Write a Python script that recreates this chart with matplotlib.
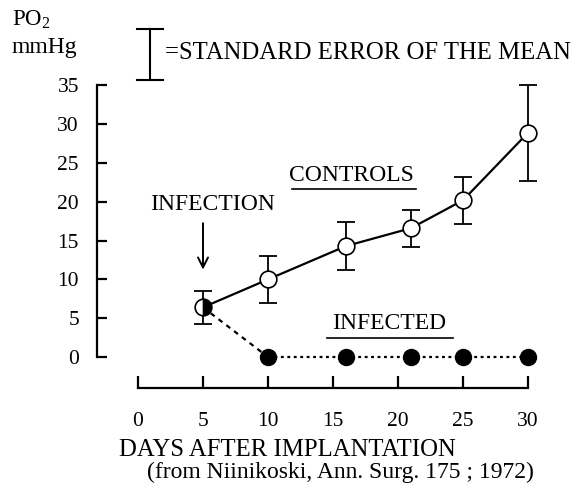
import numpy as np
import matplotlib
matplotlib.use('Agg')
import matplotlib.pyplot as plt
from matplotlib.lines import Line2D

plt.rcParams['font.family'] = ['Liberation Serif', 'DejaVu Serif']

# data (PO2 in mmHg)
days = [5, 10, 16, 21, 25, 30]
controls = [6.4, 10.0, 14.3, 16.6, 20.2, 28.9]
controls_err = [2.1, 3.0, 3.1, 2.4, 3.0, 6.2]
infected_days = [5, 10, 16, 21, 25, 30]
infected = [6.4, 0, 0, 0, 0, 0]
xticks = [0, 5, 10, 15, 20, 25, 30]
yticks = [0, 5, 10, 15, 20, 25, 30, 35]

W, H = 580, 490
fig = plt.figure(figsize=(W / 100, H / 100), dpi=100)
# axes placed in pixels: x 90..545, y 80..395
ax = fig.add_axes([90 / W, 1 - 395 / H, 455 / W, 315 / H])
ax.set_xlim((90 - 138) / 13, (545 - 138) / 13)
ax.set_ylim((357 - 395) / 7.76, (357 - 80) / 7.76)

lw = 1.6
# controls: open circles with error bars
ax.errorbar(days, controls, yerr=controls_err, fmt='none', ecolor='black',
            elinewidth=1.3, capsize=6.5, capthick=1.3, zorder=1)
ax.plot(days, controls, '-', color='black', lw=lw, zorder=2)
ax.plot(days[1:], controls[1:], 'o', ms=12, mfc='white', mec='black', mew=1.2, zorder=3)

# infected: dashed to day 10, then dotted
ax.plot(infected_days[:2], infected[:2], color='black', lw=1.6,
        ls=(0, (2.2, 2.2)), zorder=2)
ax.plot(infected_days[1:], infected[1:], color='black', lw=1.6,
        ls=(0, (1.3, 1.6)), zorder=2)
ax.plot(infected_days[1:], infected[1:], 'o', ms=11.5, mfc='black', mec='black', zorder=3)
ax.plot(infected_days[0], infected[0], 'o', ms=12, fillstyle='right',
        mfc='black', mfcalt='white', mec='black', mew=1.2, zorder=3)

# axes styling
for s in ['top', 'right']:
    ax.spines[s].set_visible(False)
ax.spines['left'].set_position(('data', (97 - 138) / 13))
ax.spines['left'].set_bounds(0, 35)
ax.spines['bottom'].set_position(('data', (357 - 388) / 7.76))
ax.spines['bottom'].set_bounds(0, 30)
ax.spines['left'].set_linewidth(lw)
ax.spines['bottom'].set_linewidth(lw)
ax.set_xticks(xticks)
ax.set_yticks(yticks)
ax.tick_params(axis='y', direction='in', length=7.5, width=lw, pad=13, labelsize=15.5)
ax.tick_params(axis='x', direction='in', length=9, width=lw, pad=17, labelsize=15.5)

# annotations
ax.text(5.73, 19.6, 'INFECTION', fontsize=17, ha='center', va='center')
ax.annotate('', xy=(5, 10.9), xytext=(5, 17.6),
            arrowprops=dict(arrowstyle='->', lw=1.4, color='black', mutation_scale=18))
ax.text(16.4, 23.45, 'CONTROLS', fontsize=17, ha='center', va='center')
ax.plot([11.85, 21.4], [21.65, 21.65], color='black', lw=1.2)
ax.text(19.3, 4.38, 'INFECTED', fontsize=17, ha='center', va='center')
ax.plot([14.55, 24.25], [2.45, 2.45], color='black', lw=1.2)

# header: PO2 / mmHg and SEM legend
fig.text(12 / W, 1 - 20 / H, r'PO$_\mathregular{2}$', fontsize=16.5, va='center', ha='left')
fig.text(12 / W, 1 - 47 / H, 'mmHg', fontsize=17, va='center', ha='left')
for seg in [((150, 150), (29, 80)), ((137, 163), (29, 29)), ((137, 163), (80, 80))]:
    fig.add_artist(Line2D([seg[0][0] / W, seg[0][1] / W],
                          [1 - seg[1][0] / H, 1 - seg[1][1] / H],
                          color='black', lw=1.5))
fig.text(165 / W, 1 - 53 / H, '=STANDARD ERROR OF THE MEAN', fontsize=17.8,
         va='center', ha='left')

fig.text(119 / W, 1 - 450 / H, 'DAYS AFTER IMPLANTATION', fontsize=17.8,
         va='center', ha='left')
fig.text(147 / W, 1 - 472 / H, '(from Niinikoski, Ann. Surg. 175 ; 1972)', fontsize=17,
         va='center', ha='left')

fig.savefig('out.png', dpi=100)
